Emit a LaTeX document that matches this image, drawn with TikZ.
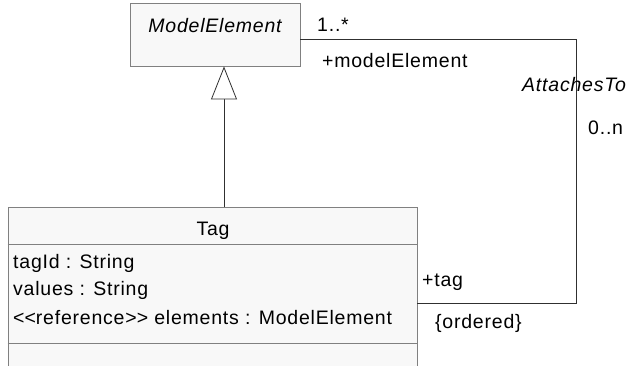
\documentclass[tikz,border=0pt]{standalone}
\usepackage{fontspec}
\setmainfont{Liberation Sans}[LetterSpace=4]
\usetikzlibrary{arrows.meta}
\definecolor{boxfill}{HTML}{F8F8F8}
\definecolor{boxline}{HTML}{808080}
\definecolor{wire}{HTML}{303030}
\newcommand{\lt}{<\kern0pt}
\newcommand{\gt}{>\kern0pt}
\tikzset{
  classbox/.style={draw=boxline, fill=boxfill, line width=0.9pt, inner sep=0pt},
  sep/.style={draw=boxline, line width=0.9pt},
  txt/.style={anchor=base west, inner sep=0pt, font=\fontsize{19.5}{21}\selectfont},
  ctxt/.style={anchor=base, inner sep=0pt, font=\fontsize{19.5}{21}\selectfont},
  assoc/.style={draw=wire, line width=0.8pt},
  gen/.style={draw=wire, line width=0.8pt,
    -{Triangle[open, length=33pt, width=26pt, fill=white]}},
}
\begin{document}
\begin{tikzpicture}[x=1pt, y=-1pt]
\useasboundingbox (0,0) rectangle (631,366);
\clip (0,0) rectangle (631,366);

% superclass
\node[classbox, minimum width=170pt, minimum height=63pt] (me) at (215,34.5) {};
\node[ctxt, font=\fontsize{19.5}{21}\selectfont\itshape] (mename) at (215,33) {ModelElement};

% Tag class with three compartments
\node[classbox, minimum width=409pt, minimum height=183pt] (tag) at (212.5,298.5) {};
\coordinate (s1) at (0,244);
\coordinate (s2) at (0,343);
\draw[sep] (tag.west |- s1) -- (tag.east |- s1);
\draw[sep] (tag.west |- s2) -- (tag.east |- s2);
\node[ctxt] (tagname) at (213,235) {Tag};
\node[txt] (a1) at (13,268) {tagId : String};
\node[txt] (a2) at (13,295) {values : String};
\node[txt] (a3) at (13,324) {\lt\lt reference\gt\gt{} elements : ModelElement};

% generalization
\coordinate (gx) at (224,0);
\draw[gen] (tag.north -| gx) -- (me.south -| gx);

% association AttachesTo
\coordinate (c1) at (576,39);
\coordinate (c2) at (576,303);
\draw[assoc] (c1 -| me.east) -- (c1) -- (c2) -- (c2 -| tag.east);

% association labels
\node[txt] (m1) at (317,32) {1..*};
\node[txt] (r1) at (322,68) {+modelElement};
\node[txt, font=\fontsize{19.5}{21}\selectfont\itshape] (an) at (522,92) {AttachesTo};
\node[txt] (m2) at (588,135) {0..n};
\node[txt] (r2) at (422,286) {+tag};
\node[txt] (ord) at (435,328) {\{ordered\}};
\end{tikzpicture}
\end{document}
